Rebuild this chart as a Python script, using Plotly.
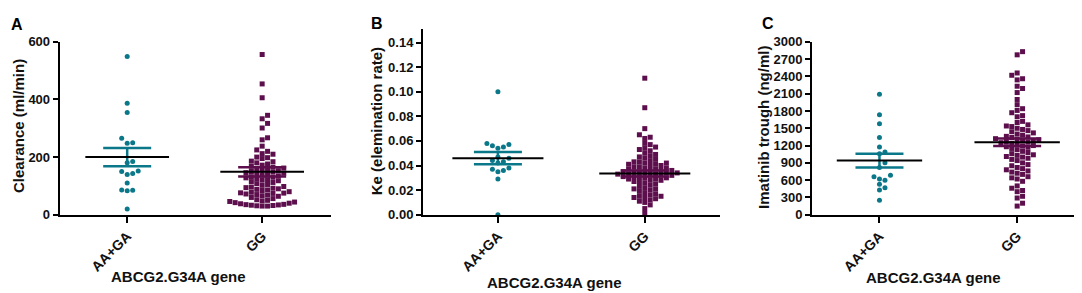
import plotly.graph_objects as go

W, H = 1082, 293

categories = ["AA+GA", "GG"]

# Panel A: Clearance (ml/min)
clear_aa = [549, 387, 355, 265, 250, 248, 185, 180, 152, 150, 143, 140, 110, 86, 85, 83, 20]
clear_gg = [556, 454, 406, 345, 333, 317, 301, 267, 260, 238, 225, 220, 212, 210, 200,
            198, 195, 186, 184, 180, 176, 172, 168, 165, 162, 160, 158, 155, 153, 150,
            148, 146, 144, 142, 140, 137, 135, 132, 130, 128, 125, 122, 120, 118, 115,
            112, 108, 105, 102, 98, 96, 94, 92, 90, 88, 86, 84, 80, 78, 76,
            75, 74, 72, 70, 68, 66, 64, 60, 56, 52, 50, 48, 46, 44, 42,
            40, 38, 36, 35, 34, 33, 32, 31, 30, 30]
clear_mean = [200, 149]
clear_sem = [32, 16]

# Panel B: Ke (elimination rate)
ke_aa = [0.100, 0.058, 0.057, 0.056, 0.055, 0.054, 0.047, 0.046, 0.044, 0.043, 0.042,
         0.038, 0.037, 0.036, 0.035, 0.029, 0.000]
ke_gg = [0.111, 0.087, 0.070, 0.065, 0.063, 0.062, 0.058, 0.057, 0.055, 0.054, 0.053,
         0.052, 0.050, 0.049, 0.048, 0.047, 0.046, 0.045, 0.044, 0.043, 0.043, 0.042,
         0.042, 0.041, 0.041, 0.040, 0.040, 0.039, 0.039, 0.038, 0.038, 0.037, 0.037,
         0.036, 0.036, 0.036, 0.035, 0.035, 0.035, 0.034, 0.034, 0.034, 0.033, 0.033,
         0.033, 0.032, 0.032, 0.032, 0.031, 0.031, 0.031, 0.030, 0.030, 0.029, 0.029,
         0.028, 0.028, 0.027, 0.027, 0.026, 0.025, 0.024, 0.023, 0.022, 0.021, 0.021,
         0.020, 0.019, 0.018, 0.017, 0.016, 0.015, 0.015, 0.014, 0.014, 0.013, 0.012,
         0.011, 0.010, 0.008, 0.005, 0.001]
ke_mean = [0.046, 0.0335]
ke_sem = [0.005, 0.0025]

# Panel C: Imatinib trough (ng/ml)
trough_aa = [2090, 1735, 1580, 1340, 1175, 1090, 1060, 900, 820, 685, 660, 620, 600,
             530, 470, 430, 250]
trough_gg = [2830, 2775, 2460, 2420, 2360, 2340, 2230, 2190, 2120, 2000, 1910, 1840,
             1810, 1770, 1720, 1700, 1620, 1600, 1560, 1540, 1530, 1500, 1480, 1460,
             1440, 1420, 1400, 1380, 1360, 1350, 1340, 1320, 1310, 1300, 1290, 1280,
             1270, 1260, 1250, 1240, 1220, 1200, 1190, 1180, 1170, 1150, 1130, 1100,
             1080, 1060, 1040, 1030, 1010, 1000, 980, 960, 940, 900, 870, 850, 820,
             800, 780, 760, 740, 720, 700, 660, 640, 620, 580, 500, 460, 420, 400,
             320, 290, 200, 150]
trough_mean = [940, 1258]
trough_sem = [120, 66]

TEAL = "#0b788a"
PURPLE = "#5c0f4c"
FONT = "Liberation Sans, Arial, sans-serif"

panels = [
    dict(aa=clear_aa, gg=clear_gg, mean=clear_mean, sem=clear_sem,
         xdom=[51.7 / W, 323 / W], ydom=[(H - 210.5) / H, (H - 28.3) / H],
         xr=[-0.5, 1.51], yr=[0, 600], dtick=200, fmt="d",
         ytitle="Clearance (ml/min)", ytx=10, yty=117, xtx=170, xty=276,
         letter="A", lx=9, ly=10),
    dict(aa=ke_aa, gg=ke_gg, mean=ke_mean, sem=ke_sem,
         xdom=[415 / W, 711.7 / W], ydom=[(H - 210.5) / H, (H - 15) / H],
         xr=[-0.51, 1.51], yr=[0, 0.1508], dtick=0.02, fmt=".2f",
         ytitle="Ke (elemination rate)", ytx=368, yty=112, xtx=546, xty=282,
         letter="B", lx=369, ly=9),
    dict(aa=trough_aa, gg=trough_gg, mean=trough_mean, sem=trough_sem,
         xdom=[804 / W, 1078 / W], ydom=[(H - 210.5) / H, (H - 28.3) / H],
         xr=[-0.49, 1.5], yr=[0, 3000], dtick=300, fmt="d",
         ytitle="Imatinib trough (ng/ml)", ytx=756, yty=119, xtx=925, xty=277,
         letter="C", lx=760, ly=9),
]


def swarm(vals, y_ppu, x_ppu, step):
    placed = []
    offs = [0.0] * len(vals)
    cands = sorted([k * step / 2 for k in range(-80, 81)], key=lambda c: (abs(c), -c))
    order = sorted(range(len(vals)), key=lambda i: vals[i])
    for i in order:
        y = vals[i] * y_ppu
        for c in cands:
            ok = True
            for (px, py) in placed:
                if abs(c - px) < step * 0.999 and abs(y - py) < step * 0.95:
                    ok = False
                    break
            if ok:
                break
        placed.append((c, y))
        offs[i] = c / x_ppu
    return offs


fig = go.Figure()
annotations = []
layout = {}

for n, p in enumerate(panels, start=1):
    xa = "x" if n == 1 else f"x{n}"
    ya = "y" if n == 1 else f"y{n}"
    plot_w = (p["xdom"][1] - p["xdom"][0]) * W
    plot_h = (p["ydom"][1] - p["ydom"][0]) * H
    x_ppu = plot_w / (p["xr"][1] - p["xr"][0])
    y_ppu = plot_h / (p["yr"][1] - p["yr"][0])

    groups = [(p["aa"], TEAL, "circle", 5.0, 5.5), (p["gg"], PURPLE, "square", 5.0, 5.4)]
    for gi, (vals, col, sym, msize, step) in enumerate(groups):
        offs = swarm(vals, y_ppu, x_ppu, step)
        fig.add_trace(go.Scatter(
            x=[gi + o for o in offs], y=vals, mode="markers",
            marker=dict(color=col, symbol=sym, size=msize, line=dict(width=0)),
            xaxis=xa, yaxis=ya, showlegend=False, cliponaxis=False))
        m = p["mean"][gi]
        s = p["sem"][gi]
        fig.add_trace(go.Scatter(
            x=[gi], y=[m], mode="markers",
            marker=dict(size=0.1, color=col),
            error_y=dict(type="data", array=[s], visible=True, color=col,
                         thickness=2.5, width=24),
            xaxis=xa, yaxis=ya, showlegend=False, cliponaxis=False))
        half = 0.31
        fig.add_trace(go.Scatter(
            x=[gi - half, gi + half], y=[m, m], mode="lines",
            line=dict(color="black", width=2),
            xaxis=xa, yaxis=ya, showlegend=False, cliponaxis=False))

    xkey = "xaxis" if n == 1 else f"xaxis{n}"
    ykey = "yaxis" if n == 1 else f"yaxis{n}"
    layout[xkey] = dict(
        domain=p["xdom"], range=p["xr"], anchor=ya,
        tickvals=[0, 1], ticktext=["<b>" + c + "</b>" for c in categories], tickangle=-45,
        showline=True, linecolor="black", linewidth=2, ticks="outside",
        ticklen=6, tickwidth=2, tickcolor="black", showgrid=False, zeroline=False,
        tickfont=dict(family=FONT, size=14, color="#111111"))
    layout[ykey] = dict(
        domain=p["ydom"], range=p["yr"], anchor=xa, dtick=p["dtick"], tick0=0,
        tickformat=p["fmt"],
        showline=True, linecolor="black", linewidth=2, ticks="outside",
        ticklen=5, tickwidth=2, tickcolor="black", showgrid=False, zeroline=False,
        tickfont=dict(family=FONT, size=13, color="#111111", weight="bold"))

    annotations.append(dict(
        text="<b>" + p["ytitle"] + "</b>", x=p["ytx"] / W, y=1 - p["yty"] / H,
        xref="paper", yref="paper",
        textangle=-90, showarrow=False, xanchor="center", yanchor="middle",
        font=dict(family=FONT, size=15, color="#111111")))
    annotations.append(dict(
        text="<b>ABCG2.G34A gene</b>", x=p["xtx"] / W, y=1 - p["xty"] / H,
        xref="paper", yref="paper",
        showarrow=False, xanchor="center", yanchor="middle",
        font=dict(family=FONT, size=15, color="#111111")))
    annotations.append(dict(
        text="<b>" + p["letter"] + "</b>", x=p["lx"] / W, y=1 - p["ly"] / H,
        xref="paper", yref="paper", showarrow=False, xanchor="center", yanchor="middle",
        font=dict(family=FONT, size=16, color="black")))

fig.update_layout(
    width=W, height=H, margin=dict(l=0, r=0, t=0, b=0),
    paper_bgcolor="white", plot_bgcolor="white",
    annotations=annotations, **layout)

fig.write_html("out.html")
